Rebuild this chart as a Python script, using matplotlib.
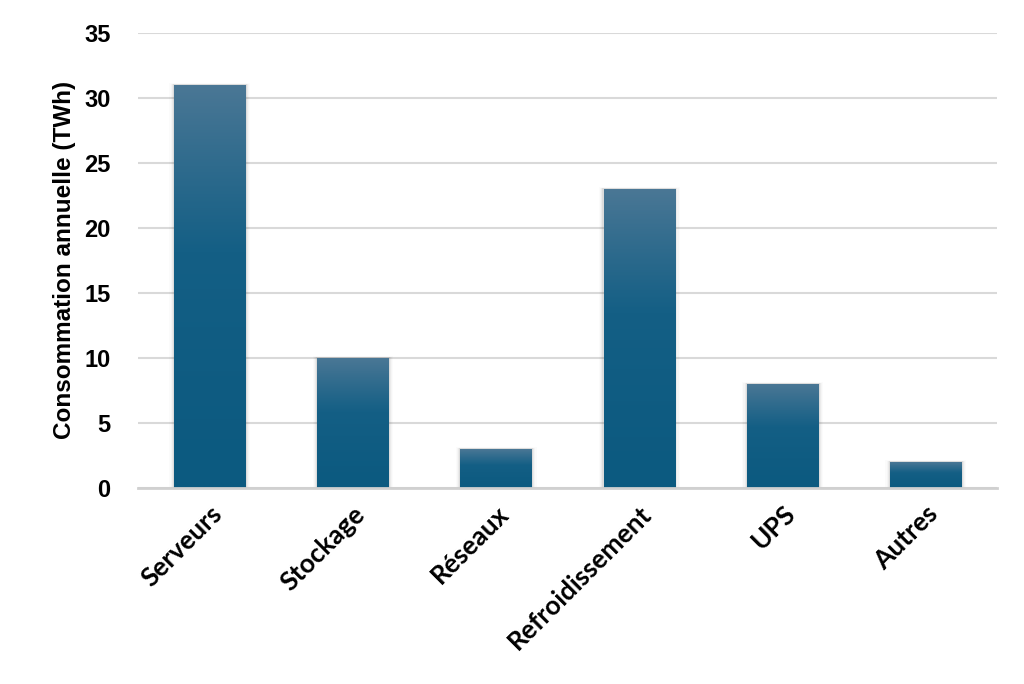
import matplotlib.pyplot as plt
import numpy as np
from matplotlib.colors import LinearSegmentedColormap
from matplotlib.patches import Rectangle

categories = ["Serveurs", "Stockage", "Réseaux", "Refroidissement", "UPS", "Autres"]
values = [31, 10, 3, 23, 8, 2]
yticks = [0, 5, 10, 15, 20, 25, 30, 35]

fig = plt.figure(figsize=(10.24, 6.84), dpi=100)
ax = fig.add_axes([0.135, 0.287, 0.839, 0.665])

x = np.arange(len(categories))
bars = ax.bar(x, values, width=0.5, color="none", zorder=3)

# degrade vertical dans chaque barre
cmap = LinearSegmentedColormap.from_list("bleu", ["#0c5a80", "#145f85", "#4a7795"])
grad = np.linspace(0, 1, 256).reshape(-1, 1) ** 1.3
for b in bars:
    x0, w, h = b.get_x(), b.get_width(), b.get_height()
    # petite ombre sur les cotes
    for k, a in enumerate([0.06, 0.04, 0.025, 0.015]):
        ax.add_patch(Rectangle((x0 - 0.008 * (k + 1), 0), w + 0.016 * (k + 1), h + 0.03 * (k + 1),
                               facecolor="black", alpha=a, edgecolor="none", zorder=2))
    ax.imshow(grad, cmap=cmap, origin="lower", aspect="auto", vmin=0, vmax=1,
              extent=[x0, x0 + w, 0, h], zorder=3, interpolation="bilinear")

ax.set_xlim(-0.5, len(categories) - 0.5)
ax.set_ylim(0, 35)
ax.set_yticks(yticks)
ax.yaxis.grid(True, color="#d9d9d9", linewidth=1.5, zorder=0)
ax.set_axisbelow(True)

for s in ["top", "right", "left"]:
    ax.spines[s].set_visible(False)
ax.spines["bottom"].set_color("#d0d0d0")
ax.spines["bottom"].set_linewidth(2)
ax.spines["bottom"].set_zorder(4)

ax.tick_params(axis="both", length=0)
ax.tick_params(axis="y", pad=20)
ax.set_yticklabels([str(t) for t in yticks], fontsize=17, fontweight="bold",
                   family="Liberation Sans")
ax.set_xticks(x)
ax.set_xticklabels(categories, rotation=45, ha="right", rotation_mode="anchor",
                   fontsize=19, fontweight="bold", family="Lato")
ax.tick_params(axis="x", pad=10)

ax.set_ylabel("Consommation annuelle (TWh)", fontsize=17.5, fontweight="bold",
              family="Liberation Sans", labelpad=6)

fig.savefig("out.png", dpi=100)
